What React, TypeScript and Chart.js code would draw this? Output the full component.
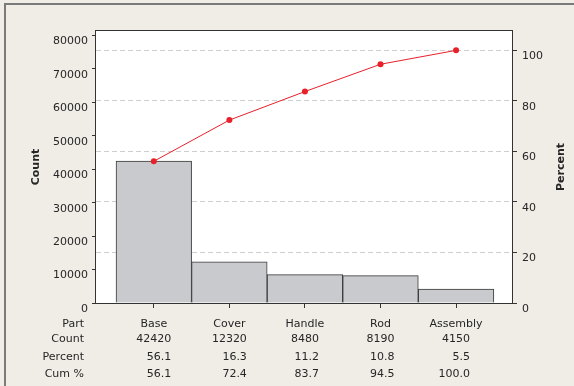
import { useEffect, useRef } from 'react';
import { Chart, registerables } from 'chart.js';

Chart.register(...registerables);

const categories = ['Base', 'Cover', 'Handle', 'Rod', 'Assembly'];
const counts = [42420, 12320, 8480, 8190, 4150];
const percents = [56.1, 16.3, 11.2, 10.8, 5.5];
const cumPercents = [56.1, 72.4, 83.7, 94.5, 100.0];
const rowLabels = ['Part', 'Count', 'Percent', 'Cum %'];
const countTicks = [0, 10000, 20000, 30000, 40000, 50000, 60000, 70000, 80000];
const percentTicks = [0, 20, 40, 60, 80, 100];
const countAxisMax = 81350;

const FONT = '"DejaVu Sans", Verdana, sans-serif';
const TEXT = '#262626';
const BG = '#F0ECE6';

export default function App() {
  const ref = useRef<HTMLCanvasElement | null>(null);

  useEffect(() => {
    document.body.style.margin = '0';
    const canvas = ref.current;
    if (!canvas) return;
    const total = counts.reduce((a, b) => a + b, 0);
    const percentAxisMax = (countAxisMax / total) * 100;

    const decor = {
      id: 'decor',
      beforeDraw(chart: any) {
        const { ctx, chartArea: a, width, height } = chart;
        ctx.save();
        ctx.fillStyle = BG;
        ctx.fillRect(0, 0, width, height);
        ctx.strokeStyle = '#7a7a7a';
        ctx.lineWidth = 2;
        ctx.beginPath();
        ctx.moveTo(5, height + 5);
        ctx.lineTo(5, 4);
        ctx.lineTo(width + 5, 4);
        ctx.stroke();
        ctx.fillStyle = '#ffffff';
        ctx.fillRect(a.left, a.top, a.right - a.left, a.bottom - a.top);
        ctx.restore();
      },
      afterDraw(chart: any) {
        const { ctx, chartArea: a } = chart;
        ctx.save();
        ctx.strokeStyle = '#333333';
        ctx.lineWidth = 1;
        ctx.strokeRect(a.left - 0.5, a.top - 0.5, a.right - a.left + 1, a.bottom - a.top + 1);

        // axis titles
        const midY = (a.top + a.bottom) / 2;
        ctx.fillStyle = TEXT;
        ctx.font = 'bold 11px ' + FONT;
        ctx.textAlign = 'center';
        ctx.textBaseline = 'middle';
        ctx.save();
        ctx.translate(36, midY);
        ctx.rotate(-Math.PI / 2);
        ctx.fillText('Count', 0, 0);
        ctx.restore();
        ctx.save();
        ctx.translate(561, midY);
        ctx.rotate(-Math.PI / 2);
        ctx.fillText('Percent', 0, 0);
        ctx.restore();

        // table
        const xs = chart.scales.x;
        const rowY = [a.bottom + 24, a.bottom + 39, a.bottom + 57, a.bottom + 74];
        ctx.font = '11px ' + FONT;
        ctx.textBaseline = 'alphabetic';
        ctx.textAlign = 'right';
        rowLabels.forEach((l, r) => ctx.fillText(l, 84, rowY[r]));
        categories.forEach((c, i) => {
          const cx = xs.getPixelForValue(i);
          const cnt = String(counts[i]);
          ctx.textAlign = 'center';
          ctx.fillText(c, cx, rowY[0]);
          ctx.fillText(cnt, cx, rowY[1]);
          const w = ctx.measureText(cnt).width;
          ctx.textAlign = 'right';
          ctx.fillText(percents[i].toFixed(1), cx + w / 2, rowY[2]);
          ctx.fillText(cumPercents[i].toFixed(1), cx + w / 2, rowY[3]);
        });
        ctx.restore();
      },
    };

    const chart = new Chart(canvas, {
      type: 'bar',
      data: {
        datasets: [
          {
            type: 'line',
            label: 'Cum %',
            data: cumPercents.map((v, i) => ({ x: i, y: v })),
            yAxisID: 'yPct',
            borderColor: '#E8202A',
            backgroundColor: '#E8202A',
            borderWidth: 1,
            pointRadius: 3,
            pointBorderWidth: 0,
            pointBackgroundColor: '#E8202A',
            order: 0,
          } as any,
          {
            type: 'bar',
            label: 'Count',
            data: counts.map((v, i) => ({ x: i, y: v })),
            yAxisID: 'y',
            backgroundColor: '#C9CACE',
            borderColor: '#3a3a3a',
            borderWidth: 1,
            barPercentage: 1,
            categoryPercentage: 1,
            order: 1,
          } as any,
        ],
      },
      options: {
        responsive: false,
        animation: false,
        devicePixelRatio: 1,
        events: [],
        layout: { padding: { top: 31, left: 0, right: 0, bottom: 0 } },
        plugins: { legend: { display: false }, tooltip: { enabled: false } },
        scales: {
          x: {
            type: 'linear',
            position: 'bottom',
            offset: false,
            min: -0.765,
            max: 4.74,
            bounds: 'data',
            afterBuildTicks: (s: any) => {
              s.ticks = categories.map((_, i) => ({ value: i }));
            },
            afterFit: (s: any) => {
              s.height = 83;
            },
            ticks: { callback: () => '', autoSkip: false },
            grid: {
              offset: false,
              drawOnChartArea: false,
              drawTicks: true,
              tickLength: 5,
              tickColor: '#333333',
            },
            border: { display: false },
          },
          y: {
            type: 'linear',
            position: 'left',
            min: 0,
            max: countAxisMax,
            bounds: 'data',
            afterBuildTicks: (s: any) => {
              s.ticks = countTicks.map((v) => ({ value: v }));
            },
            afterFit: (s: any) => {
              s.width = 96;
            },
            ticks: {
              autoSkip: false,
              padding: 4,
              labelOffset: 6,
              color: TEXT,
              font: { family: FONT, size: 11 },
              callback: (v: any) => String(v),
            },
            grid: {
              drawOnChartArea: false,
              drawTicks: true,
              tickLength: 4,
              tickColor: '#333333',
            },
            border: { display: false },
          },
          yPct: {
            type: 'linear',
            position: 'right',
            min: 0,
            max: percentAxisMax,
            bounds: 'data',
            afterBuildTicks: (s: any) => {
              s.ticks = percentTicks.map((v) => ({ value: v }));
            },
            afterFit: (s: any) => {
              s.width = 62;
            },
            ticks: {
              autoSkip: false,
              padding: 5,
              labelOffset: 6,
              color: TEXT,
              font: { family: FONT, size: 11 },
              callback: (v: any) => String(v),
            },
            grid: {
              drawOnChartArea: true,
              drawTicks: true,
              tickLength: 5,
              tickColor: '#333333',
              color: (c: any) => (c.tick && c.tick.value === 0 ? 'rgba(0,0,0,0)' : '#cfcfcf'),
              lineWidth: 1,
            },
            border: { display: false, dash: [5, 3] },
          },
        },
      } as any,
      plugins: [decor],
    });

    return () => chart.destroy();
  }, []);

  return (
    <div style={{ position: 'absolute', left: 0, top: 0, width: 574, height: 386 }}>
      <canvas ref={ref} width={574} height={386} style={{ display: 'block' }} />
    </div>
  );
}
